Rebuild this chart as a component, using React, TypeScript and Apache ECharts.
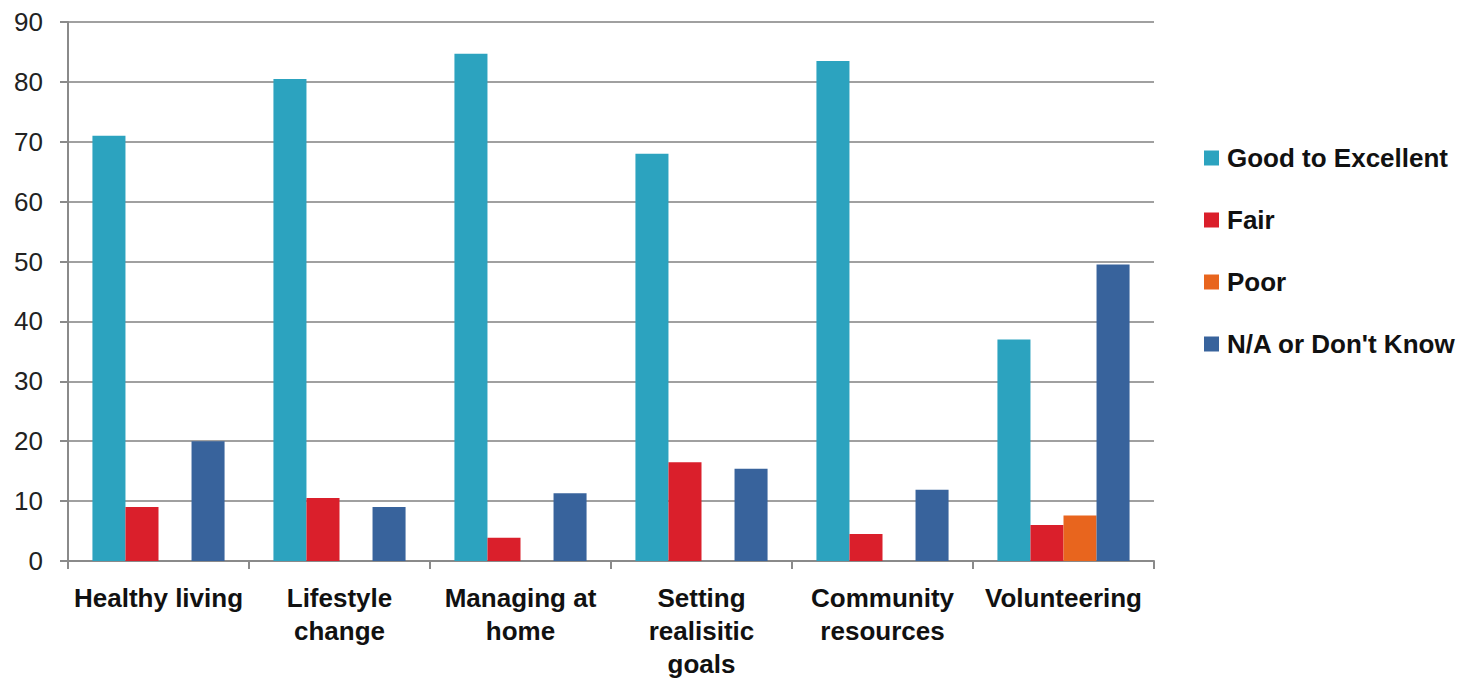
import React, { useEffect, useRef } from "react";
import * as echarts from "echarts";

const categories = [
  "Healthy living",
  "Lifestyle\nchange",
  "Managing at\nhome",
  "Setting\nrealisitic\ngoals",
  "Community\nresources",
  "Volunteering",
];
const seriesNames = ["Good to Excellent", "Fair", "Poor", "N/A or Don't Know"];
const goodToExcellent = [71, 80.5, 84.7, 68, 83.5, 37];
const fair = [9, 10.5, 3.9, 16.5, 4.5, 6];
const poor = [0, 0, 0, 0, 0, 7.6];
const naOrDontKnow = [20, 9, 11.3, 15.4, 11.9, 49.5];
const colors = ["#2ca3bf", "#da1f2b", "#e8651e", "#38639c"];

const FONT = "'Liberation Sans', Arial, sans-serif";

export default function App() {
  const ref = useRef<HTMLDivElement>(null);
  useEffect(() => {
    if (!ref.current) return;
    const chart = echarts.init(ref.current, undefined, { renderer: "svg" });
    const values = [goodToExcellent, fair, poor, naOrDontKnow];
    chart.setOption({
      animation: false,
      color: colors,
      textStyle: { fontFamily: FONT },
      grid: { left: 68, right: 315, top: 22, bottom: 116, containLabel: false },
      legend: {
        orient: "vertical",
        left: 1199,
        top: 138,
        itemWidth: 15,
        itemHeight: 15,
        itemGap: 32,
        icon: "rect",
        data: seriesNames,
        textStyle: {
          fontFamily: FONT,
          fontSize: 26,
          fontWeight: "bold",
          color: "#111",
          lineHeight: 30,
          padding: [0, 0, 0, 3],
        },
      },
      xAxis: {
        type: "category",
        data: categories,
        axisLine: { lineStyle: { color: "#8a8a8a", width: 2 } },
        axisTick: { show: true, length: 8, lineStyle: { color: "#8a8a8a", width: 2 } },
        axisLabel: {
          interval: 0,
          margin: 20,
          fontFamily: FONT,
          fontSize: 26,
          fontWeight: "bold",
          color: "#111",
          lineHeight: 33,
        },
      },
      yAxis: {
        type: "value",
        min: 0,
        max: 90,
        interval: 10,
        axisLine: { show: true, lineStyle: { color: "#8a8a8a", width: 2 } },
        axisTick: { show: true, length: 8, lineStyle: { color: "#8a8a8a", width: 2 } },
        splitLine: { show: true, lineStyle: { color: "#a0a0a0", width: 2 } },
        axisLabel: {
          margin: 25,
          fontFamily: FONT,
          fontSize: 26,
          color: "#222",
        },
      },
      series: seriesNames.map((name, i) => ({
        name,
        type: "bar",
        data: values[i],
        barGap: "0%",
        barCategoryGap: "27%",
        itemStyle: { color: colors[i] },
      })),
    });
    return () => chart.dispose();
  }, []);
  return <div ref={ref} style={{ width: 1469, height: 680, position: "absolute", left: 0, top: 0 }} />;
}
